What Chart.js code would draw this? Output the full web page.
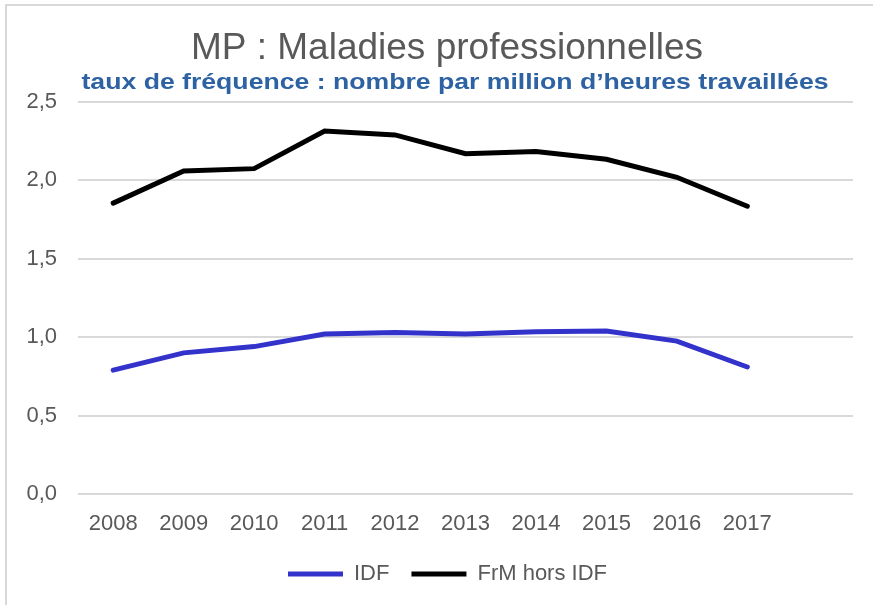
<!DOCTYPE html>
<html>
<head>
    <meta charset="UTF-8">
    <title>MP : Maladies professionnelles</title>
    <script src="https://cdn.jsdelivr.net/npm/chart.js"></script>
    <style>
        body { margin: 0; background: #fff; overflow: hidden; }
        #cadre { position: absolute; left: 5px; top: 4px; width: 900px; height: 700px;
                 border-left: 2px solid #d9d9d9; border-top: 2px solid #d9d9d9; }
        #zone { position: absolute; left: 0; top: 0; width: 873px; height: 605px; }
    </style>
</head>
<body>
    <div id="cadre"></div>
    <div id="zone"><canvas id="chart"></canvas></div>

    <script>
        // annees (la derniere categorie est vide, comme sur l'original)
        var annees = ['2008', '2009', '2010', '2011', '2012', '2013', '2014', '2015', '2016', '2017', ''];
        // taux de frequence IDF
        var tauxIDF = [0.79, 0.90, 0.94, 1.02, 1.03, 1.02, 1.035, 1.04, 0.975, 0.81];
        // taux de frequence France metropolitaine hors IDF
        var tauxHorsIDF = [1.855, 2.06, 2.075, 2.315, 2.29, 2.17, 2.185, 2.135, 2.02, 1.835];

        var titre = 'MP : Maladies professionnelles';
        var sousTitre = 'taux de fréquence : nombre par million d\u2019heures travaillées';

        var gris = '#595959';
        var police = "'Liberation Sans', Arial, sans-serif";

        // titre + sous-titre dessines a la main : ils ne sont pas centres sur la meme ligne
        // et le sous-titre est en gras "etroit" (pas d'Arial Narrow, on compresse l'Arial gras)
        var titresPlugin = {
            id: 'titres',
            afterLayout: function(chart) {
                // la legende est centree un peu plus a droite que le graphique
                chart.legend.left += 14;
                chart.legend.right += 14;
            },
            afterDraw: function(chart) {
                var c = chart.ctx;
                c.save();
                c.textAlign = 'center';

                c.font = "37px 'Liberation Sans', Arial, sans-serif";
                c.fillStyle = gris;
                c.textBaseline = 'middle';
                c.fillText(titre, 447, 49);

                c.font = "bold 22px 'Liberation Sans', Arial, sans-serif";
                c.fillStyle = '#2d62a3';
                c.textBaseline = 'alphabetic';
                var w = c.measureText(sousTitre).width;
                c.translate(455, 89);
                c.scale(747 / w, 1);
                c.fillText(sousTitre, 0, 0);
                c.restore();
            }
        };

        var ctx = document.getElementById('chart').getContext('2d');
        var chart = new Chart(ctx, {
            type: 'line',
            data: {
                labels: annees,
                datasets: [{
                    label: 'IDF',
                    data: tauxIDF,
                    borderColor: '#3333cc',
                    backgroundColor: '#3333cc',
                    borderWidth: 5,
                    borderCapStyle: 'round',
                    pointRadius: 0,
                    tension: 0,
                    fill: false
                }, {
                    label: 'FrM hors IDF',
                    data: tauxHorsIDF,
                    borderColor: '#000000',
                    backgroundColor: '#000000',
                    borderWidth: 5,
                    borderCapStyle: 'round',
                    pointRadius: 0,
                    tension: 0,
                    fill: false
                }]
            },
            plugins: [titresPlugin],
            options: {
                responsive: true,
                maintainAspectRatio: false,
                animation: false,
                layout: { padding: { left: 14, right: 20, top: 102, bottom: 10 } },
                plugins: {
                    title: { display: false },
                    legend: {
                        position: 'bottom',
                        labels: {
                            color: gris,
                            font: { family: police, size: 22 },
                            usePointStyle: true,
                            pointStyle: 'line',
                            pointStyleWidth: 55,
                            padding: 22
                        }
                    },
                    tooltip: { enabled: false }
                },
                scales: {
                    x: {
                        offset: true,
                        grid: { display: false, drawTicks: false },
                        border: { display: false },
                        ticks: { color: gris, font: { family: police, size: 22 }, padding: 17, maxRotation: 0, autoSkip: false },
                        afterFit: function(s) { s.height = 47; }
                    },
                    y: {
                        min: 0,
                        max: 2.5,
                        grid: { color: '#d9d9d9', lineWidth: 2, drawTicks: false },
                        border: { display: false },
                        ticks: {
                            stepSize: 0.5,
                            color: gris,
                            font: { family: police, size: 22 },
                            padding: 21,
                            callback: function(v) { return v.toFixed(1).replace('.', ','); }
                        },
                        afterFit: function(s) { s.width = 64; }
                    }
                }
            }
        });
    </script>
</body>
</html>
